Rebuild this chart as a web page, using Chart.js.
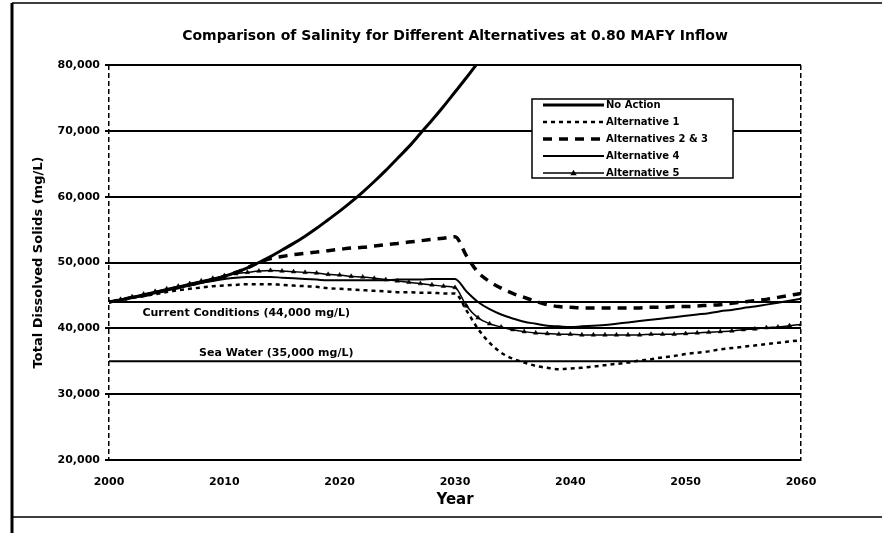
<!DOCTYPE html>
<html>
<head>
<meta charset="utf-8">
<title>Comparison of Salinity</title>
<script src="https://cdn.jsdelivr.net/npm/chart.js@4/dist/chart.umd.min.js"></script>
<style>
  html, body { margin: 0; padding: 0; background: #fff; }
  canvas { display: block; }
</style>
</head>
<body>
<canvas id="salinity" width="882" height="533"></canvas>
<script>
// Simulation years (x axis)
const years = [
  2000, 2001, 2002, 2003, 2004, 2005, 2006, 2007, 2008, 2009,
  2010, 2011, 2012, 2013, 2014, 2015, 2016, 2017, 2018, 2019,
  2020, 2021, 2022, 2023, 2024, 2025, 2026, 2027, 2028, 2029,
  2030, 2031, 2032, 2033, 2034, 2035, 2036, 2037, 2038, 2039,
  2040, 2041, 2042, 2043, 2044, 2045, 2046, 2047, 2048, 2049,
  2050, 2051, 2052, 2053, 2054, 2055, 2056, 2057, 2058, 2059,
  2060
];

// Total dissolved solids, mg/L
const noAction = [
  44000, 44300, 44700, 45000, 45400, 45800, 46200, 46600, 47000, 47400,
  47900, 48500, 49200, 50000, 50900, 51900, 52900, 54000, 55200, 56500,
  57800, 59200, 60700, 62300, 64000, 65800, 67600, 69600, 71600, 73700,
  75900, 78100, 80400, 82800
];
const alternative1 = [
  44000, 44300, 44600, 44900, 45200, 45500, 45800, 46000, 46200, 46400,
  46500, 46600, 46700, 46700, 46700, 46600, 46500, 46400, 46300, 46100,
  46000, 45900, 45800, 45700, 45600, 45500, 45500, 45400, 45400, 45300,
  45300, 42700, 39900, 37800, 36300, 35400, 34800, 34300, 34000, 33800,
  33900, 34000, 34200, 34400, 34600, 34800, 35100, 35300, 35600, 35800,
  36100, 36300, 36500, 36800, 37000, 37200, 37400, 37600, 37800, 38000,
  38200
];
const alternatives2and3 = [
  44000, 44300, 44700, 45000, 45400, 45800, 46200, 46600, 47000, 47400,
  47900, 48500, 49200, 50000, 50600, 50900, 51200, 51400, 51600, 51800,
  52000, 52200, 52300, 52500, 52700, 52900, 53100, 53300, 53500, 53700,
  53900, 51000, 48500, 47100, 46100, 45300, 44700, 44100, 43600, 43300,
  43200, 43100, 43100, 43100, 43100, 43100, 43100, 43200, 43200, 43300,
  43300, 43400, 43500, 43600, 43800, 44000, 44200, 44400, 44700, 45000,
  45300
];
const alternative4 = [
  44000, 44300, 44700, 45000, 45400, 45800, 46200, 46500, 46900, 47200,
  47500, 47700, 47800, 47800, 47800, 47700, 47600, 47500, 47400, 47300,
  47300, 47300, 47300, 47300, 47300, 47400, 47400, 47400, 47500, 47500,
  47500, 45600, 44000, 42900, 42100, 41500, 41000, 40700, 40400, 40300,
  40200, 40300, 40400, 40500, 40700, 40900, 41100, 41300, 41500, 41700,
  41900, 42100, 42300, 42600, 42800, 43100, 43300, 43600, 43900, 44200,
  44500
];
const alternative5 = [
  44000, 44400, 44800, 45200, 45600, 46000, 46400, 46800, 47200, 47600,
  48000, 48300, 48500, 48700, 48800, 48700, 48600, 48500, 48400, 48200,
  48100, 47900, 47800, 47600, 47400, 47200, 47000, 46800, 46600, 46400,
  46200, 43400, 41600, 40700, 40200, 39800, 39500, 39300, 39200, 39100,
  39100, 39000, 39000, 39000, 39000, 39000, 39000, 39100, 39100, 39100,
  39200, 39300, 39400, 39500, 39600, 39800, 39900, 40100, 40200, 40400,
  40600
];

// Reference levels across the full period
const referenceYears = [2000, 2060];
const currentConditions = [44000, 44000];
const seaWater = [35000, 35000];

// Axis ticks
const yearTicks = [2000, 2010, 2020, 2030, 2040, 2050, 2060];
const tdsTicks = [20000, 30000, 40000, 50000, 60000, 70000, 80000];

const seriesNames = ['No Action', 'Alternative 1', 'Alternatives 2 & 3', 'Alternative 4', 'Alternative 5'];
const titleText = 'Comparison of Salinity for Different Alternatives at 0.80 MAFY Inflow';
const currentLabel = 'Current Conditions (44,000 mg/L)';
const seaLabel = 'Sea Water (35,000 mg/L)';

const toPoints = (xs, ys) => ys.map((v, i) => ({ x: xs[i], y: v }));
const FONT = 'DejaVu Sans';

Chart.defaults.font.family = FONT;
Chart.defaults.font.weight = 'bold';
Chart.defaults.color = '#000';

// Page frame around the figure
const framePlugin = {
  id: 'frame',
  beforeDraw(chart) {
    const ctx = chart.ctx;
    ctx.save();
    ctx.fillStyle = '#fff';
    ctx.fillRect(0, 0, chart.width, chart.height);
    ctx.strokeStyle = '#000';
    ctx.lineWidth = 3;
    ctx.beginPath();
    ctx.moveTo(12, 3); ctx.lineTo(12, chart.height);
    ctx.stroke();
    ctx.lineWidth = 1.5;
    ctx.beginPath();
    ctx.moveTo(12, 3); ctx.lineTo(chart.width, 3);
    ctx.moveTo(12, 517); ctx.lineTo(chart.width, 517);
    ctx.stroke();
    ctx.restore();
  }
};

// Text labels for the two reference levels
const referenceLabels = {
  id: 'referenceLabels',
  afterDatasetsDraw(chart) {
    const { ctx, scales: { x, y } } = chart;
    ctx.save();
    ctx.font = 'bold 11px "' + FONT + '"';
    ctx.fillStyle = '#000';
    ctx.textAlign = 'center';
    ctx.textBaseline = 'middle';
    ctx.fillText(currentLabel, x.getPixelForValue(2011.9), y.getPixelForValue(42300));
    ctx.fillText(seaLabel, x.getPixelForValue(2014.5), y.getPixelForValue(36200));
    ctx.restore();
  }
};

// Boxed legend inside the plot
const boxedLegend = {
  id: 'boxedLegend',
  afterDatasetsDraw(chart) {
    const ctx = chart.ctx;
    const left = 532, top = 99, right = 733, bottom = 178;
    ctx.save();
    ctx.fillStyle = '#fff';
    ctx.fillRect(left, top, right - left, bottom - top);
    ctx.strokeStyle = '#000';
    ctx.lineWidth = 1.5;
    ctx.strokeRect(left, top, right - left, bottom - top);
    ctx.font = 'bold 10px "' + FONT + '"';
    ctx.textAlign = 'left';
    ctx.textBaseline = 'middle';
    const rows = chart.data.datasets.filter(d => d.inLegend);
    rows.forEach((ds, i) => {
      const yy = top + 6 + i * 17;
      const x0 = 543, x1 = 604;
      ctx.strokeStyle = '#000';
      ctx.lineWidth = ds.borderWidth;
      ctx.setLineDash(ds.borderDash || []);
      ctx.beginPath();
      ctx.moveTo(x0, yy); ctx.lineTo(x1, yy);
      ctx.stroke();
      ctx.setLineDash([]);
      if (ds.pointStyle === 'triangle') {
        const cx = (x0 + x1) / 2, r = 3.2;
        ctx.fillStyle = '#000';
        ctx.beginPath();
        ctx.moveTo(cx, yy - r);
        ctx.lineTo(cx + r, yy + r * 0.7);
        ctx.lineTo(cx - r, yy + r * 0.7);
        ctx.closePath();
        ctx.fill();
      }
      ctx.fillStyle = '#000';
      ctx.fillText(ds.label, x1 + 2, yy);
    });
    ctx.restore();
  }
};

const lineBase = {
  borderColor: '#000',
  backgroundColor: '#000',
  pointRadius: 0,
  fill: false,
  cubicInterpolationMode: 'monotone'
};

new Chart(document.getElementById('salinity'), {
  type: 'line',
  data: {
    datasets: [
      Object.assign({}, lineBase, {
        label: seriesNames[0], inLegend: true,
        data: toPoints(years, noAction), borderWidth: 3
      }),
      Object.assign({}, lineBase, {
        label: seriesNames[1], inLegend: true,
        data: toPoints(years, alternative1), borderWidth: 2.5, borderDash: [4, 4]
      }),
      Object.assign({}, lineBase, {
        label: seriesNames[2], inLegend: true,
        data: toPoints(years, alternatives2and3), borderWidth: 3.5, borderDash: [9, 7]
      }),
      Object.assign({}, lineBase, {
        label: seriesNames[3], inLegend: true,
        data: toPoints(years, alternative4), borderWidth: 2
      }),
      Object.assign({}, lineBase, {
        label: seriesNames[4], inLegend: true,
        data: toPoints(years, alternative5), borderWidth: 1.5,
        pointStyle: 'triangle', pointRadius: 2.6, pointBorderWidth: 0.5
      }),
      Object.assign({}, lineBase, {
        label: currentLabel, inLegend: false,
        data: toPoints(referenceYears, currentConditions), borderWidth: 2,
        cubicInterpolationMode: 'default', tension: 0
      }),
      Object.assign({}, lineBase, {
        label: seaLabel, inLegend: false,
        data: toPoints(referenceYears, seaWater), borderWidth: 2,
        cubicInterpolationMode: 'default', tension: 0
      })
    ]
  },
  options: {
    responsive: false,
    animation: false,
    devicePixelRatio: 1,
    layout: { padding: { left: 0, right: 81, top: 0, bottom: 0 } },
    plugins: {
      legend: { display: false },
      tooltip: { enabled: false },
      title: {
        display: true,
        text: titleText,
        fullSize: false,
        color: '#000',
        font: { size: 14, weight: 'bold', family: FONT, lineHeight: 1.2 },
        padding: { top: 27.6, bottom: 20.6 }
      }
    },
    scales: {
      x: {
        type: 'linear',
        min: 2000,
        max: 2060,
        afterFit: s => { s.height = 73; },
        afterBuildTicks: s => { s.ticks = yearTicks.map(v => ({ value: v })); },
        ticks: {
          padding: 16,
          maxRotation: 0,
          font: { size: 11, weight: 'bold' },
          callback: v => String(v)
        },
        grid: {
          drawTicks: false,
          lineWidth: 1.5,
          color: c => (c.tick && (c.tick.value === 2000 || c.tick.value === 2060)) ? '#000' : 'rgba(0,0,0,0)'
        },
        border: { display: true, color: '#000', width: 2, dash: [5, 3] },
        title: {
          display: true,
          text: 'Year',
          font: { size: 15, weight: 'bold', lineHeight: 1.2 },
          padding: { top: 0, bottom: 24 }
        }
      },
      y: {
        min: 20000,
        max: 80000,
        afterFit: s => { s.width = 109; },
        afterBuildTicks: s => { s.ticks = tdsTicks.map(v => ({ value: v })); },
        ticks: {
          padding: 5,
          font: { size: 11, weight: 'bold' },
          callback: v => v.toLocaleString('en-US')
        },
        grid: { color: '#000', lineWidth: 2, tickLength: 4, drawTicks: true },
        border: { display: false },
        title: {
          display: true,
          text: 'Total Dissolved Solids (mg/L)',
          font: { size: 13, weight: 'bold', lineHeight: 1.2 },
          padding: { top: 31, bottom: 0 }
        }
      }
    }
  },
  plugins: [framePlugin, referenceLabels, boxedLegend]
});
</script>
</body>
</html>
